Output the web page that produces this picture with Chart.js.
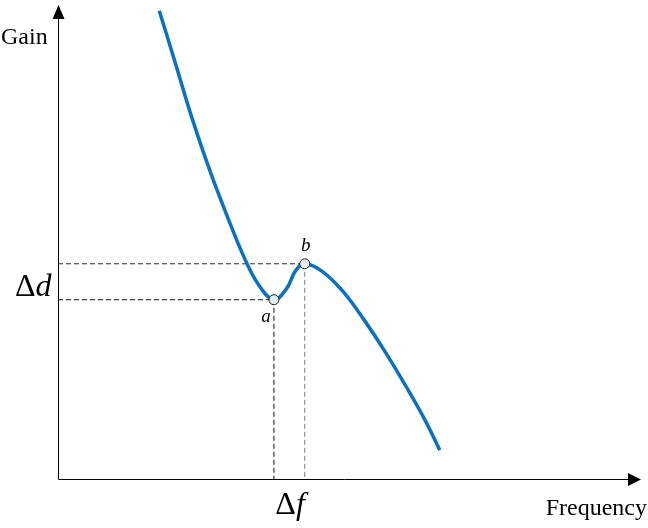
<!DOCTYPE html>
<html>
<head>
<meta charset="utf-8">
<script src="https://cdn.jsdelivr.net/npm/chart.js@4.4.1/dist/chart.umd.min.js"></script>
<style>
  html, body { margin: 0; padding: 0; background: #fff; }
  #wrap { width: 648px; height: 528px; position: relative; }
</style>
</head>
<body>
<div id="wrap"><canvas id="gainChart"></canvas></div>
<script>
// Gain vs frequency curve (arbitrary units, 0..100 on both axes)
const freq = [17.4, 20.0, 23.0, 26.0, 29.0, 32.0, 34.5, 37.1, 39.3, 40.8, 42.4, 45.5, 49.0, 52.5, 56.0, 59.5, 63.0, 65.6];
const gain = [99.0, 88.6, 76.4, 65.5, 55.8, 46.8, 41.0, 37.9, 40.3, 44.0, 45.5, 43.8, 39.6, 33.8, 27.3, 20.2, 12.6, 6.1];

// marked points a (local minimum) and b (local maximum)
const markNames = ['a', 'b'];
const markFreq = [37.1, 42.4];
const markGain = [37.9, 45.5];

const axisLabels = { x: 'Frequency', y: 'Gain' };

document.addEventListener('DOMContentLoaded', () => {
    initGainChart();
});

function initGainChart() {
    const ctx = document.getElementById('gainChart').getContext('2d');

    const curve = freq.map((f, i) => ({ x: f, y: gain[i] }));
    const marks = markFreq.map((f, i) => ({ x: f, y: markGain[i] }));

    // dashed guide lines: axis -> point -> axis
    const guideA = [{ x: 0, y: markGain[0] }, { x: markFreq[0], y: markGain[0] }, { x: markFreq[0], y: 0 }];
    const guideBh = [{ x: 0, y: markGain[1] }, { x: markFreq[1], y: markGain[1] }];
    const guideBv = [{ x: markFreq[1], y: markGain[1] }, { x: markFreq[1], y: 0 }];

    const serif = "'Liberation Serif', 'DejaVu Serif', serif";

    // axes with arrows + text labels
    const annotations = {
        id: 'annotations',
        beforeDatasetsDraw(chart) {
            const { ctx, chartArea: a } = chart;
            ctx.save();
            ctx.strokeStyle = '#000';
            ctx.fillStyle = '#000';
            ctx.lineWidth = 1;
            ctx.beginPath();
            ctx.moveTo(a.left + 0.5, a.bottom + 0.5);
            ctx.lineTo(a.left + 0.5, a.top + 10);
            ctx.moveTo(a.left + 0.5, a.bottom + 0.5);
            ctx.lineTo(a.right - 10, a.bottom + 0.5);
            ctx.stroke();
            // y arrow
            ctx.beginPath();
            ctx.moveTo(a.left + 0.5, a.top - 1);
            ctx.lineTo(a.left - 5.5, a.top + 13);
            ctx.lineTo(a.left + 6.5, a.top + 13);
            ctx.closePath();
            ctx.fill();
            // x arrow
            ctx.beginPath();
            ctx.moveTo(a.right + 1, a.bottom + 0.5);
            ctx.lineTo(a.right - 12, a.bottom - 6);
            ctx.lineTo(a.right - 12, a.bottom + 7);
            ctx.closePath();
            ctx.fill();
            ctx.restore();
        },
        afterDraw(chart) {
            const { ctx, chartArea: a, scales } = chart;
            const x = scales.x, y = scales.y;
            ctx.save();
            ctx.fillStyle = '#000';
            ctx.textBaseline = 'alphabetic';

            ctx.font = '24px ' + serif;
            ctx.textAlign = 'left';
            ctx.fillText(axisLabels.y, 1, 44);
            ctx.textAlign = 'right';
            ctx.fillText(axisLabels.x, 647, 515);

            // point names
            ctx.font = 'italic 19px ' + serif;
            ctx.textAlign = 'center';
            ctx.fillText(markNames[0], x.getPixelForValue(markFreq[0]) - 8, y.getPixelForValue(markGain[0]) + 22);
            ctx.fillText(markNames[1], x.getPixelForValue(markFreq[1]) + 1, y.getPixelForValue(markGain[1]) - 13);

            // Δd between the two levels
            const dY = (y.getPixelForValue(markGain[0]) + y.getPixelForValue(markGain[1])) / 2 + 14;
            ctx.textAlign = 'left';
            ctx.font = '32px ' + serif;
            ctx.fillText('\u0394', 15, dY);
            const dw = ctx.measureText('\u0394').width;
            ctx.font = 'italic 32px ' + serif;
            ctx.fillText('d', 15 + dw, dY);

            // Δf between the two frequencies
            const fX = (x.getPixelForValue(markFreq[0]) + x.getPixelForValue(markFreq[1])) / 2 - 14;
            ctx.font = '32px ' + serif;
            ctx.fillText('\u0394', fX, a.bottom + 35);
            const fw = ctx.measureText('\u0394').width;
            ctx.font = 'italic 32px ' + serif;
            ctx.fillText('f', fX + fw, a.bottom + 35);
            ctx.restore();
        }
    };

    const config = {
        type: 'line',
        data: {
            datasets: [
                {
                    label: 'marks',
                    data: marks,
                    showLine: false,
                    pointRadius: 5,
                    pointBackgroundColor: '#e4ebf3',
                    pointBorderColor: '#222',
                    pointBorderWidth: 1,
                    order: 0
                },
                {
                    label: 'gain',
                    data: curve,
                    borderColor: '#0a70c2',
                    borderWidth: 3.5,
                    tension: 0.4,
                    borderCapStyle: 'butt',
                    borderJoinStyle: 'round',
                    pointRadius: 0,
                    fill: false,
                    order: 1
                },
                {
                    label: 'guideA',
                    data: guideA,
                    borderColor: '#111',
                    borderWidth: 1,
                    borderDash: [5, 3],
                    pointRadius: 0,
                    order: 2
                },
                {
                    label: 'guideBh',
                    data: guideBh,
                    borderColor: '#333',
                    borderWidth: 1,
                    borderDash: [5, 3],
                    pointRadius: 0,
                    order: 2
                },
                {
                    label: 'guideBv',
                    data: guideBv,
                    borderColor: '#777',
                    borderWidth: 1,
                    borderDash: [5, 3],
                    pointRadius: 0,
                    order: 2
                }
            ]
        },
        options: {
            responsive: true,
            maintainAspectRatio: false,
            animation: false,
            clip: false,
            layout: { padding: { left: 58, right: 8, top: 2, bottom: 49 } },
            scales: {
                x: { type: 'linear', min: 0, max: 100, display: false },
                y: { type: 'linear', min: 0, max: 100, display: false }
            },
            plugins: {
                legend: { display: false },
                tooltip: { enabled: false }
            }
        },
        plugins: [annotations]
    };

    new Chart(ctx, config);
}
</script>
</body>
</html>
